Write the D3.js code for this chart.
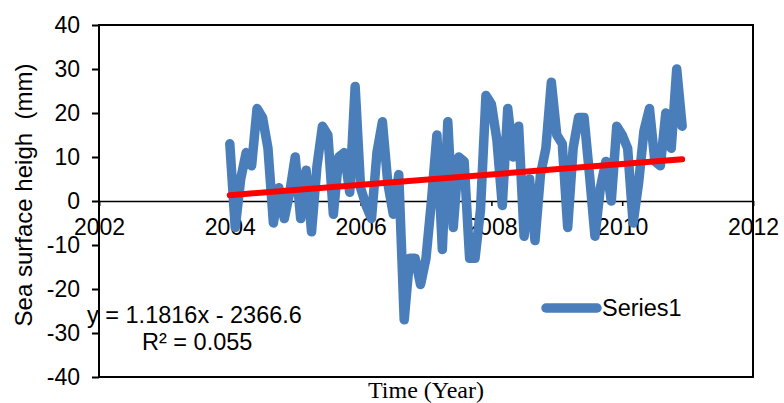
<!DOCTYPE html>
<html lang="en">
<head>
  <meta charset="utf-8">
  <title>Sea surface height</title>
  <script type="text/javascript" src="https://d3js.org/d3.v7.min.js"></script>
  <style type="text/css">
    body { margin: 0; background: #fff; }
    text { font-family: "Liberation Sans", Arial, sans-serif; fill: #000; }
  </style>
</head>
<body>
  <script type="text/javascript">
    // monthly values, Jan 2004 onward (mm)
    var startYear = 2004;
    var seaLevel = [13, -6, 5, 11, 8, 21, 19, 12, -5, 3, -4, 2,
      10, -4, 7, -7, 8, 17, 15, -3, 10, 11, 2, 26,
      3, -1, -4, 11, 18, 4, -3, 6, -27, -13, -13, -19,
      -13, 0, 15, -11, 18, -6, 10, 9, -13, -13, -2, 24,
      22, 14, -1, 21, 10, 17, -8, 5, -9, 6, 12, 27,
      15, 13, -6, 12, 19, 19, 6, -8, 3, 9, 0, 17,
      15, 12, -5, 4, 16, 21, 9, 8, 20, 12, 30, 17];

    // trend line as printed on the chart
    var slope = 1.1816, intercept = -2366.6;
    var r2Label = "R² = 0.055";

    var xTicks = [2002, 2004, 2006, 2008, 2010, 2012];
    var yTicks = [-40, -30, -20, -10, 0, 10, 20, 30, 40];

    var width = 784, height = 403;
    var plotLeft = 99, plotRight = 753, plotTop = 25, plotBottom = 377;
    var fontSans = "Liberation Sans, Arial, sans-serif";

    var svg = d3.select("body").append("svg")
      .attr("width", width)
      .attr("height", height);

    var x = d3.scaleLinear().domain([2002, 2012]).range([plotLeft, plotRight]);
    var y = d3.scaleLinear().domain([-40, 40]).range([plotBottom, plotTop]);

    var points = seaLevel.map(function(v, i) {
      return { t: startYear + i / 12, v: v };
    });

    // plot frame
    svg.append("rect")
      .attr("x", plotLeft).attr("y", plotTop)
      .attr("width", plotRight - plotLeft).attr("height", plotBottom - plotTop)
      .attr("fill", "none").attr("stroke", "#000").attr("stroke-width", 2);

    // y axis ticks + labels (plain hyphen for minus, like Excel)
    var yAxis = d3.axisLeft(y).tickValues(yTicks).tickSize(7).tickPadding(12)
      .tickFormat(function(d) { return String(d); });
    var gy = svg.append("g").attr("transform", "translate(" + plotLeft + ",0)").call(yAxis);
    gy.select(".domain").remove();
    gy.selectAll("line").attr("stroke", "#000").attr("stroke-width", 2);
    gy.selectAll("text").attr("font-size", 23).attr("font-family", fontSans);

    // x axis sits on zero
    var xAxis = d3.axisBottom(x).tickValues(xTicks).tickSize(5).tickPadding(13)
      .tickFormat(d3.format("d"));
    var gx = svg.append("g").attr("transform", "translate(0," + y(0) + ")").call(xAxis);
    gx.select(".domain").attr("stroke", "#000").attr("stroke-width", 1.5);
    gx.selectAll("line").attr("stroke", "#000").attr("stroke-width", 1.5);
    gx.selectAll("text").attr("font-size", 23).attr("font-family", fontSans);

    // series
    var line = d3.line()
      .x(function(d) { return x(d.t); })
      .y(function(d) { return y(d.v); });

    svg.append("path")
      .datum(points)
      .attr("d", line)
      .attr("fill", "none")
      .attr("stroke", "#4a7ebb")
      .attr("stroke-width", 9.5)
      .attr("stroke-linejoin", "round")
      .attr("stroke-linecap", "round");

    // linear trend
    var t0 = points[0].t, t1 = points[points.length - 1].t;
    svg.append("line")
      .attr("x1", x(t0)).attr("y1", y(slope * t0 + intercept))
      .attr("x2", x(t1)).attr("y2", y(slope * t1 + intercept))
      .attr("stroke", "#ff0000")
      .attr("stroke-width", 6)
      .attr("stroke-linecap", "round");

    // equation
    svg.append("text")
      .attr("x", 87).attr("y", 323)
      .attr("font-size", 23.5)
      .text("y = " + slope + "x - " + Math.abs(intercept));
    svg.append("text")
      .attr("x", 142).attr("y", 350)
      .attr("font-size", 23.5)
      .text(r2Label);

    // legend
    svg.append("line")
      .attr("x1", 546).attr("x2", 597)
      .attr("y1", 308).attr("y2", 308)
      .attr("stroke", "#4a7ebb").attr("stroke-width", 9.5)
      .attr("stroke-linecap", "round");
    svg.append("text")
      .attr("x", 602).attr("y", 316)
      .attr("font-size", 23.5)
      .text("Series1");

    // axis titles
    svg.append("text")
      .attr("transform", "translate(32,195) rotate(-90)")
      .attr("text-anchor", "middle")
      .attr("font-size", 24)
      .style("white-space", "pre")
      .text("Sea surface heigh  (mm)");

    svg.append("text")
      .attr("x", 426).attr("y", 398)
      .attr("text-anchor", "middle")
      .attr("font-size", 24)
      .style("font-family", "'Liberation Serif', 'Times New Roman', serif")
      .text("Time (Year)");
  </script>
</body>
</html>
